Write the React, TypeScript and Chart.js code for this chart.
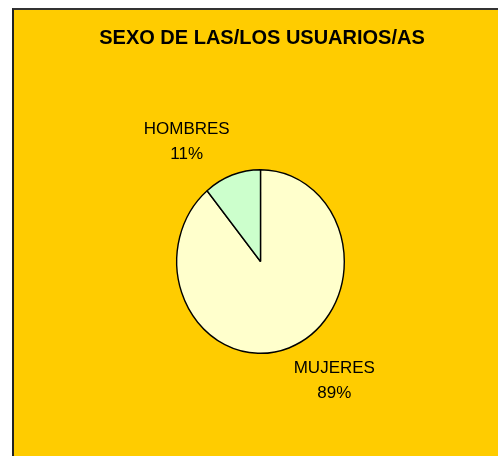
import React, { useEffect, useRef } from "react";
import { Chart, registerables } from "chart.js";
Chart.register(...registerables);

const chartTitle = "SEXO DE LAS/LOS USUARIOS/AS";
const categories = ["MUJERES", "HOMBRES"];
const values = [89, 11];
const sliceColors = ["#FFFFCC", "#CCFFCC"];

const ELLIPSE_Y = 1.096;
const FONT = '"Liberation Sans", Arial, sans-serif';

const piePlugin = {
  id: "ellipsePie",
  beforeDatasetsDraw(chart: any) {
    const arc = chart.getDatasetMeta(0).data[0];
    const ctx = chart.ctx;
    ctx.save();
    ctx.translate(arc.x, arc.y);
    ctx.scale(1, ELLIPSE_Y);
    ctx.translate(-arc.x, -arc.y);
  },
  afterDatasetsDraw(chart: any) {
    const ctx = chart.ctx;
    ctx.restore();
    const meta = chart.getDatasetMeta(0);
    const total = values.reduce((a, b) => a + b, 0);
    meta.data.forEach((arc: any, i: number) => {
      const { x, y, startAngle, endAngle, outerRadius } = arc.getProps(
        ["x", "y", "startAngle", "endAngle", "outerRadius"],
        true
      );
      const mid = (startAngle + endAngle) / 2 - 0.25;
      const d = outerRadius * 1.57;
      const lx = x + Math.cos(mid) * d;
      const ly = y + Math.sin(mid) * d * ELLIPSE_Y;
      ctx.save();
      ctx.font = `17px ${FONT}`;
      ctx.fillStyle = "#000";
      ctx.textAlign = "center";
      ctx.textBaseline = "middle";
      ctx.fillText(categories[i], lx, ly - 12.5);
      ctx.fillText(Math.round((values[i] / total) * 100) + "%", lx, ly + 12.5);
      ctx.restore();
    });
    ctx.save();
    ctx.font = `bold 20px ${FONT}`;
    ctx.fillStyle = "#000";
    ctx.textAlign = "center";
    ctx.textBaseline = "middle";
    ctx.fillText(chartTitle, 262, 38);
    ctx.restore();
  },
};

export default function App() {
  const ref = useRef<HTMLCanvasElement>(null);
  useEffect(() => {
    const chart = new Chart(ref.current as HTMLCanvasElement, {
      type: "pie",
      data: {
        labels: categories,
        datasets: [
          {
            data: values,
            backgroundColor: sliceColors,
            borderColor: "#000",
            borderWidth: 1.4,
          },
        ],
      },
      options: {
        animation: false,
        responsive: false,
        devicePixelRatio: 1,
        layout: { padding: { left: 176, right: 153, top: 177, bottom: 110 } },
        plugins: {
          legend: { display: false },
          title: { display: false },
          tooltip: { enabled: false },
        },
      },
      plugins: [piePlugin],
    });
    return () => chart.destroy();
  }, []);
  return (
    <div style={{ position: "fixed", left: 0, top: 0, width: 498, height: 456, background: "#fff", overflow: "hidden" }}>
      <div
        style={{
          position: "absolute",
          left: 12,
          top: 8,
          width: 520,
          height: 480,
          background: "#FFCC00",
          borderLeft: "2px solid #222",
          borderTop: "2px solid #333",
        }}
      />
      <canvas ref={ref} width={498} height={456} style={{ position: "absolute", left: 0, top: 0, width: 498, height: 456 }} />
    </div>
  );
}
